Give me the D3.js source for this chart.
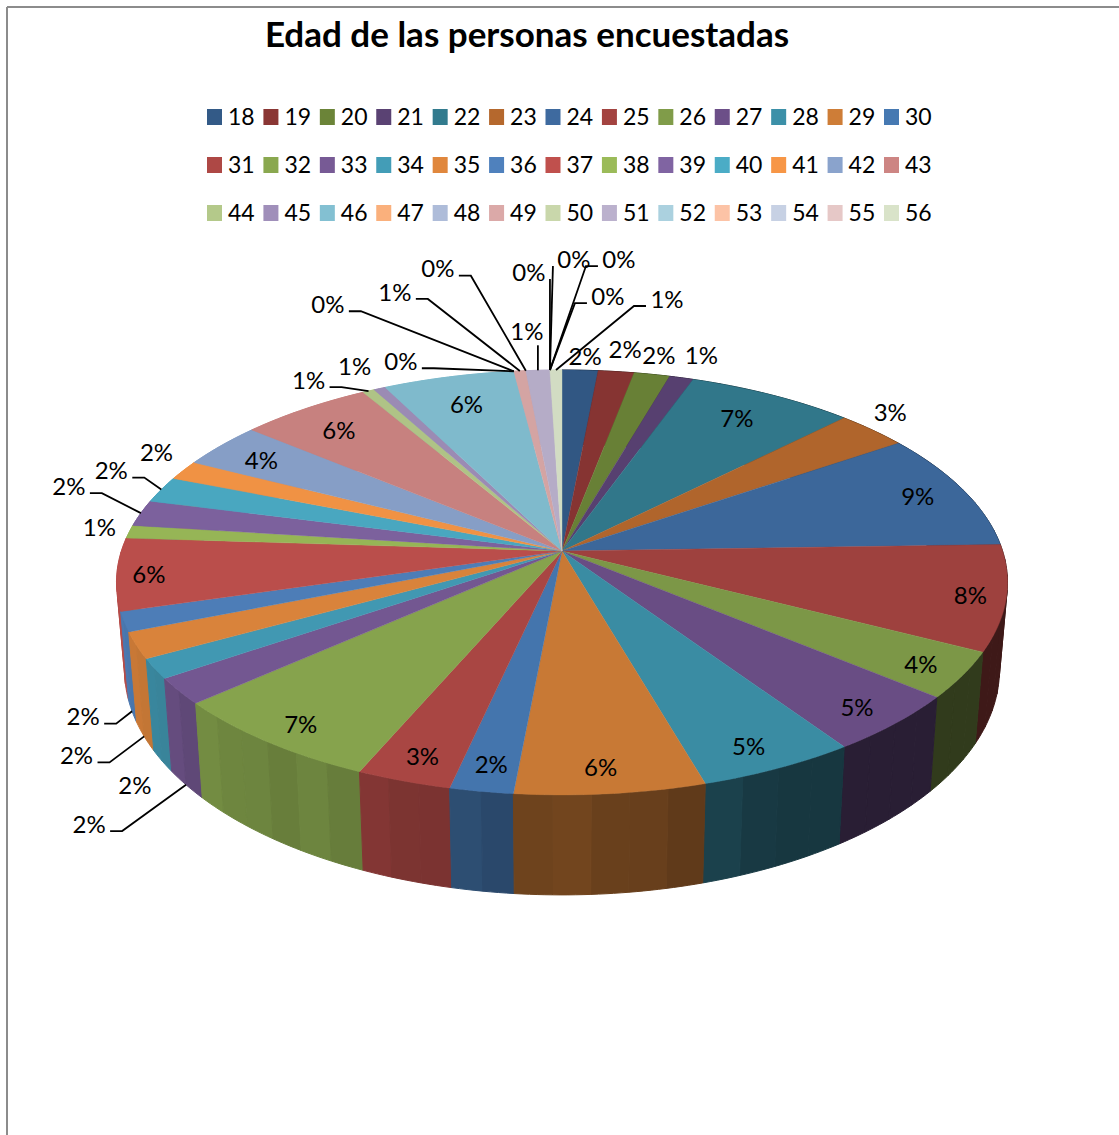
<!DOCTYPE html>
<html>
<head>
<meta charset="utf-8">
<script src="https://cdn.jsdelivr.net/npm/d3@7"></script>
<style>
    html, body { margin: 0; padding: 0; background: #fff; }
    svg { display: block; }
    text { font-family: Lato, "Open Sans", sans-serif; fill: #000; }
    .legendText { font-size: 23px; }
    .dataLabel { font-size: 24px; }
    .chartTitle { font-size: 35px; font-weight: bold; }
    .leader { fill: none; stroke: #000; stroke-width: 1.8; }
    .frame { stroke: #8c8c8c; stroke-width: 2; }
</style>
</head>
<body>
<div id="chart"></div>
<script>
var titleText = "Edad de las personas encuestadas";

//ages, one per slice
var ages = [18,19,20,21,22,23,24,25,26,27,28,29,30,31,32,33,34,35,36,37,
            38,39,40,41,42,43,44,45,46,47,48,49,50,51,52,53,54,55,56];

//people per age (200 in total)
var counts = [3,3,3,2,14,6,18,16,7,9,10,12,4,6,14,4,3,4,3,11,
              2,4,4,3,7,11,1,1,11,0,0,1,0,2,0,0,0,0,1];

var sliceColors = ["#335a87","#8a3634","#6b8438","#5a4273","#327b8e","#b5682d","#3e6a9f","#a34340","#809c49","#6c4f88",
                   "#3c90a8","#ce7d37","#4679b2","#ae4845","#8aa84f","#775a95","#439db7","#e0873d","#4f81bd","#c0504d",
                   "#9bbb59","#8064a2","#4bacc6","#f79646","#8aa3cc","#cd8583","#b4c98a","#a08fba","#83c0d2","#fab07c",
                   "#aebcd9","#dba9a8","#c9d7ab","#bbb1cd","#abd1df","#fcc3a6","#c7d1e4","#e6c8c7","#d9e3c9"];

//label position, as offset from the rim point in the middle of the slice
var labelOffsets = {
    18:[5,-14], 19:[9,-22], 20:[7,-19], 21:[20,-22], 22:[-35,23], 23:[18,-18], 24:[-45,7], 25:[-36,-2],
    26:[-42,-11], 27:[-38,-16], 28:[-30,-22], 29:[-10,-26], 30:[10,-27], 31:[19,-25], 32:[33,-18],
    33:[-90,133], 34:[-20,117], 35:[-60,110], 36:[-41,95], 37:[32,0], 38:[-30,-4], 39:[-72,-27],
    40:[-50,-19], 41:[-27,-18], 42:[40,15], 43:[34,21], 44:[-60,-11], 45:[-25,-22], 46:[18,27],
    47:[-113,-10], 48:[-186,-67], 49:[-125,-79], 50:[-88,-102], 51:[-11,-39], 52:[-21,-98],
    53:[24,-111], 54:[69,-111], 55:[58,-74], 56:[111,-71]
};

//which labels get a leader line
var leaderAges = [33,35,36,39,40,44,47,48,49,50,51,52,53,54,55,56];
var straightLeaders = [52,53];

var width = 1119, height = 1135;

//the pie is a tilted circle seen in perspective
var pieX = 562, pieY = 551, radiusX = 440.6, radiusY = 207.8, tilt = 0.148;
var wallHeight = 85.2, wallShrink = 0.982;

//how much light each part of the side wall gets, by angle in degrees
var wallLight = d3.scaleLinear()
    .domain([100,155,165,185,189,198,216,232,245,252,262])
    .range([.38,.38,.47,.56,.62,.73,.78,.82,.88,.93,.97])
    .clamp(true);
var facetTint = [1,1.03,.98,1.02,.99,1.04,.97,1.01];

function rimPoint(angle){
    var u = Math.sin(angle), v = Math.cos(angle), w = 1 + tilt * v;
    return [pieX + radiusX * u / w, pieY - radiusY * v / w];
}

function floorPoint(angle){
    var p = rimPoint(angle), w = 1 + tilt * Math.cos(angle);
    return [pieX + (p[0] - pieX) * wallShrink, p[1] + wallHeight / w];
}

function arcAngles(a0, a1, step){
    var n = Math.max(1, Math.ceil((a1 - a0) / step));
    return d3.range(n + 1).map(function(i){ return a0 + (a1 - a0) * i / n; });
}

function shade(color, factor){
    var c = d3.rgb(color);
    return d3.rgb(c.r * factor, c.g * factor, c.b * factor).formatHex();
}

var svg = d3.select("#chart").append("svg")
    .attr("width", width)
    .attr("height", height);

var closedLine = d3.line().curve(d3.curveLinearClosed);
var openLine = d3.line();

//frame, only the top and left edges are inside the picture
svg.append("line").attr("class","frame").attr("x1",7).attr("y1",7).attr("x2",width).attr("y2",7);
svg.append("line").attr("class","frame").attr("x1",7).attr("y1",7).attr("x2",7).attr("y2",height);

svg.append("text")
    .attr("class","chartTitle")
    .attr("x",527)
    .attr("y",47)
    .attr("text-anchor","middle")
    .text(titleText);

//legend
var perRow = 13;
var legendColumn = d3.scalePoint().domain(d3.range(perRow)).range([207, 884]);
var legendRow = d3.scalePoint().domain([0,1,2]).range([117, 213]);

var legendItems = svg.selectAll(".legendItem")
    .data(ages)
    .enter().append("g")
    .attr("class","legendItem")
    .attr("transform", function(d,i){
        return "translate(" + legendColumn(i % perRow) + "," + legendRow(Math.floor(i / perRow)) + ")";
    });

legendItems.append("rect")
    .attr("y",-8)
    .attr("width",15)
    .attr("height",16)
    .attr("fill", function(d,i){ return sliceColors[i]; });

legendItems.append("text")
    .attr("class","legendText")
    .attr("x",21)
    .attr("dy",".36em")
    .text(function(d){ return d; });

//angles
var pie = d3.pie().sort(null).value(function(d){ return d; });
var arcs = pie(counts);
var percent = d3.format(".0f");
var total = d3.sum(counts);

function facetColor(d){
    var deg = (d.a0 + d.a1) / 2 * 180 / Math.PI;
    var tint = deg > 160 && deg < 235 ? facetTint[d.n % facetTint.length] : 1;
    return shade(sliceColors[d.slice], wallLight(deg) * tint);
}

//side wall, cut in narrow facets
var facets = [];
arcs.forEach(function(a,i){
    var angles = arcAngles(a.startAngle, a.endAngle, Math.PI / 40);
    d3.pairs(angles).forEach(function(p){
        facets.push({a0:p[0], a1:p[1], slice:i, n:facets.length});
    });
});
facets.sort(function(a,b){ return Math.cos(b.a0) - Math.cos(a.a0); });

svg.append("g").selectAll("path")
    .data(facets)
    .enter().append("path")
    .attr("d", function(d){
        var top = arcAngles(d.a0, d.a1, Math.PI / 180).map(rimPoint);
        var bottom = arcAngles(d.a0, d.a1, Math.PI / 180).map(floorPoint).reverse();
        return closedLine(top.concat(bottom));
    })
    .attr("fill", facetColor)
    .attr("stroke", facetColor)
    .attr("stroke-width",1);

//top of the pie
svg.append("g").selectAll("path")
    .data(arcs.filter(function(a){ return a.value > 0; }))
    .enter().append("path")
    .attr("d", function(a){
        var pts = arcAngles(a.startAngle, a.endAngle, Math.PI / 180).map(rimPoint);
        return closedLine([[pieX, pieY]].concat(pts));
    })
    .attr("fill", function(a){ return shade(sliceColors[a.index], .97); })
    .attr("stroke", function(a){ return shade(sliceColors[a.index], .97); })
    .attr("stroke-width",.4);

//labels
function midAngle(a){ return (a.startAngle + a.endAngle) / 2; }

function labelPoint(a){
    var p = rimPoint(midAngle(a)), off = labelOffsets[ages[a.index]];
    return [p[0] + off[0], p[1] + off[1]];
}

function leaderPoints(a){
    var age = ages[a.index], mid = midAngle(a), lp = labelPoint(a);
    var end = Math.cos(mid) < 0 ? floorPoint(mid) : rimPoint(mid);
    if (age == 51) {
        return [[end[0], lp[1] + 14], end];
    }
    var side = lp[0] < end[0] ? 1 : -1;
    var start = [lp[0] + side * 21, lp[1] + 7];
    if (straightLeaders.indexOf(age) >= 0) {
        return [start, end];
    }
    return [start, [lp[0] + side * 33, lp[1] + 7], end];
}

svg.append("g").selectAll("path")
    .data(arcs.filter(function(a){ return leaderAges.indexOf(ages[a.index]) >= 0; }))
    .enter().append("path")
    .attr("class","leader")
    .attr("d", function(a){ return openLine(leaderPoints(a)); });

svg.append("g").selectAll("text")
    .data(arcs)
    .enter().append("text")
    .attr("class","dataLabel")
    .attr("x", function(a){ return labelPoint(a)[0]; })
    .attr("y", function(a){ return labelPoint(a)[1]; })
    .attr("text-anchor","middle")
    .attr("dy",".36em")
    .text(function(a){ return percent(a.value / total * 100 + 1e-9) + "%"; });
</script>
</body>
</html>
